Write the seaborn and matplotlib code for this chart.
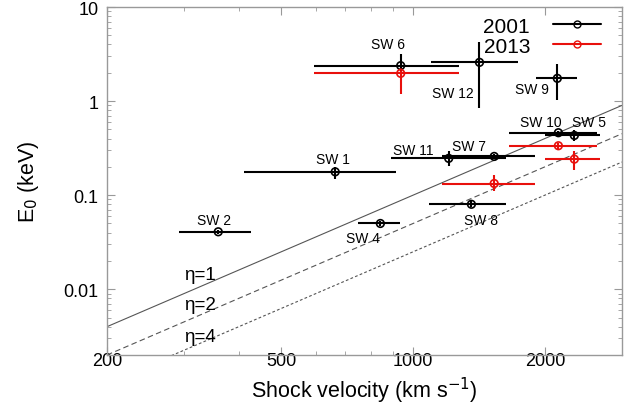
import numpy as np
import pandas as pd
import matplotlib
matplotlib.use("Agg")
import matplotlib.pyplot as plt
from matplotlib.lines import Line2D
from matplotlib.ticker import FixedLocator, NullFormatter, LogLocator
import seaborn as sns

# ---------------- data ----------------
names01 = ["SW 1", "SW 2", "SW 4", "SW 5", "SW 6", "SW 7", "SW 8", "SW 9", "SW 10", "SW 11", "SW 12"]
v01     = [664, 359, 842, 2335, 937, 1532, 1359, 2135, 2147, 1206, 1418]
v01_lo  = [411, 292, 748, 2000, 595, 1165, 1089, 1906, 1654, 892, 1101]
v01_hi  = [914, 426, 935, 2672, 1276, 1897, 1632, 2364, 2636, 1630, 1735]
e01     = [0.177, 0.0408, 0.050, 0.431, 2.38, 0.258, 0.080, 1.744, 0.461, 0.246, 2.58]
e01_lo  = [0.150, 0.0385, 0.047, 0.375, 1.97, 0.245, 0.075, 1.017, 0.440, 0.202, 0.851]
e01_hi  = [0.200, 0.0430, 0.053, 0.491, 3.14, 0.272, 0.086, 2.46, 0.480, 0.292, 4.21]

names13 = ["SW 5", "SW 6", "SW 7", "SW 10"]
v13     = [2335, 937, 1532, 2147]
v13_lo  = [2000, 595, 1165, 1654]
v13_hi  = [2672, 1276, 1897, 2636]
e13     = [0.2415, 1.97, 0.133, 0.335]
e13_lo  = [0.186, 1.18, 0.1095, 0.310]
e13_hi  = [0.294, 2.23, 0.163, 0.360]

label_names = ["SW 1", "SW 2", "SW 4", "SW 5", "SW 6", "SW 7", "SW 8", "SW 9", "SW 10", "SW 11", "SW 12"]
label_x     = [656, 351, 768, 2522, 876, 1340, 1426, 1865, 1955, 1003, 1232]
label_y     = [0.240, 0.0551, 0.0352, 0.604, 4.01, 0.335, 0.0551, 1.332, 0.604, 0.301, 1.229]

# model lines: E0 = 1.6 keV / eta * (v / 4000 km/s)^2
etas = [1, 2, 4]
eta_coef = 1.6
eta_vref = 4000.0
line_v = [200, 3000]
eta_label_x = 300
eta_label_y = [0.0143, 0.00687, 0.00314]

xticks = [200, 500, 1000, 2000]
xminor = [300, 400, 600, 700, 800, 900]
yticks = [0.01, 0.1, 1, 10]
ytick_labels = ["0.01", "0.1", "1", "10"]

# ---------------- plot ----------------
sns.set_theme(style="ticks")
plt.rcParams["font.family"] = ["Liberation Sans", "DejaVu Sans"]
plt.rcParams["text.color"] = "black"
plt.rcParams["axes.labelcolor"] = "black"
plt.rcParams["xtick.labelcolor"] = "black"
plt.rcParams["ytick.labelcolor"] = "black"

fig = plt.figure(figsize=(6.42, 4.06), dpi=100)
ax = fig.add_axes([107 / 642, 1 - 356 / 406, 515 / 642, 348 / 406])

rows = []
for eta in etas:
    for v in line_v:
        rows.append({"v": v, "E": eta_coef / eta * (v / eta_vref) ** 2, "eta": eta})
lines_df = pd.DataFrame(rows)
styles = {1: "-", 2: (0, (5, 3)), 4: (0, (2.5, 2))}
for eta in etas:
    sub = lines_df[lines_df["eta"] == eta]
    sns.lineplot(data=sub, x="v", y="E", ax=ax, color="#555555", lw=0.8,
                 linestyle=styles[eta], legend=False)

def draw(v, vlo, vhi, e, elo, ehi, color):
    v = np.array(v); e = np.array(e)
    xerr = [v - np.array(vlo), np.array(vhi) - v]
    yerr = [e - np.array(elo), np.array(ehi) - e]
    ax.errorbar(v, e, xerr=xerr, yerr=yerr, fmt="none", ecolor=color,
                elinewidth=1.5, capsize=0, zorder=3)
    df = pd.DataFrame({"v": v, "E": e})
    sns.scatterplot(data=df, x="v", y="E", ax=ax, marker="o", s=30,
                    facecolor="none", edgecolor=color, linewidth=1.2, zorder=4)

draw(v01, v01_lo, v01_hi, e01, e01_lo, e01_hi, "black")
draw(v13, v13_lo, v13_hi, e13, e13_lo, e13_hi, "#e8100c")

for n, x, y in zip(label_names, label_x, label_y):
    ax.text(x, y, n, fontsize=10, ha="center", va="center", color="black")

for eta, y in zip(etas, eta_label_y):
    ax.text(eta_label_x, y, "\u03b7=%d" % eta, fontsize=13.5, ha="left", va="center",
            color="black")

ax.set_xscale("log")
ax.set_yscale("log")
ax.set_xlim(200, 3000)
ax.set_ylim(0.002, 10)

ax.xaxis.set_major_locator(FixedLocator(xticks))
ax.set_xticklabels([str(t) for t in xticks])
ax.xaxis.set_minor_locator(FixedLocator(xminor))
ax.xaxis.set_minor_formatter(NullFormatter())
ax.yaxis.set_major_locator(FixedLocator(yticks))
ax.set_yticklabels(ytick_labels)
ax.yaxis.set_minor_locator(LogLocator(base=10, subs=np.arange(2, 10)))
ax.yaxis.set_minor_formatter(NullFormatter())

ax.tick_params(which="both", direction="in", top=True, right=True,
               color="#999999", labelsize=13, labelcolor="black")
ax.tick_params(which="major", length=6, width=0.8)
ax.tick_params(axis="x", which="major", pad=-2)
ax.tick_params(axis="y", which="major", pad=6)
ax.tick_params(which="minor", length=3, width=0.6)
for s in ax.spines.values():
    s.set_color("#999999")
    s.set_linewidth(1.0)

ax.set_xlabel("Shock velocity (km s$^{-1}$)", fontsize=15.5, labelpad=4)
ax.set_ylabel("E$_0$ (keV)", fontsize=15.5, labelpad=16)

handles = [
    Line2D([0], [0], color="black", lw=1.5, marker="o", markersize=5,
           markerfacecolor="none", markeredgecolor="black"),
    Line2D([0], [0], color="#e8100c", lw=1.5, marker="o", markersize=5,
           markerfacecolor="none", markeredgecolor="#e8100c"),
]
leg = ax.legend(handles, ["2001", "2013"], loc="upper right", frameon=False,
                markerfirst=False, fontsize=15, handlelength=2.3, handletextpad=1.1,
                labelspacing=0.05, borderpad=0.2, borderaxespad=0,
                bbox_to_anchor=(0.967, 0.984))
for t in leg.get_texts():
    t.set_color("black")

fig.savefig("out.png", dpi=100)
